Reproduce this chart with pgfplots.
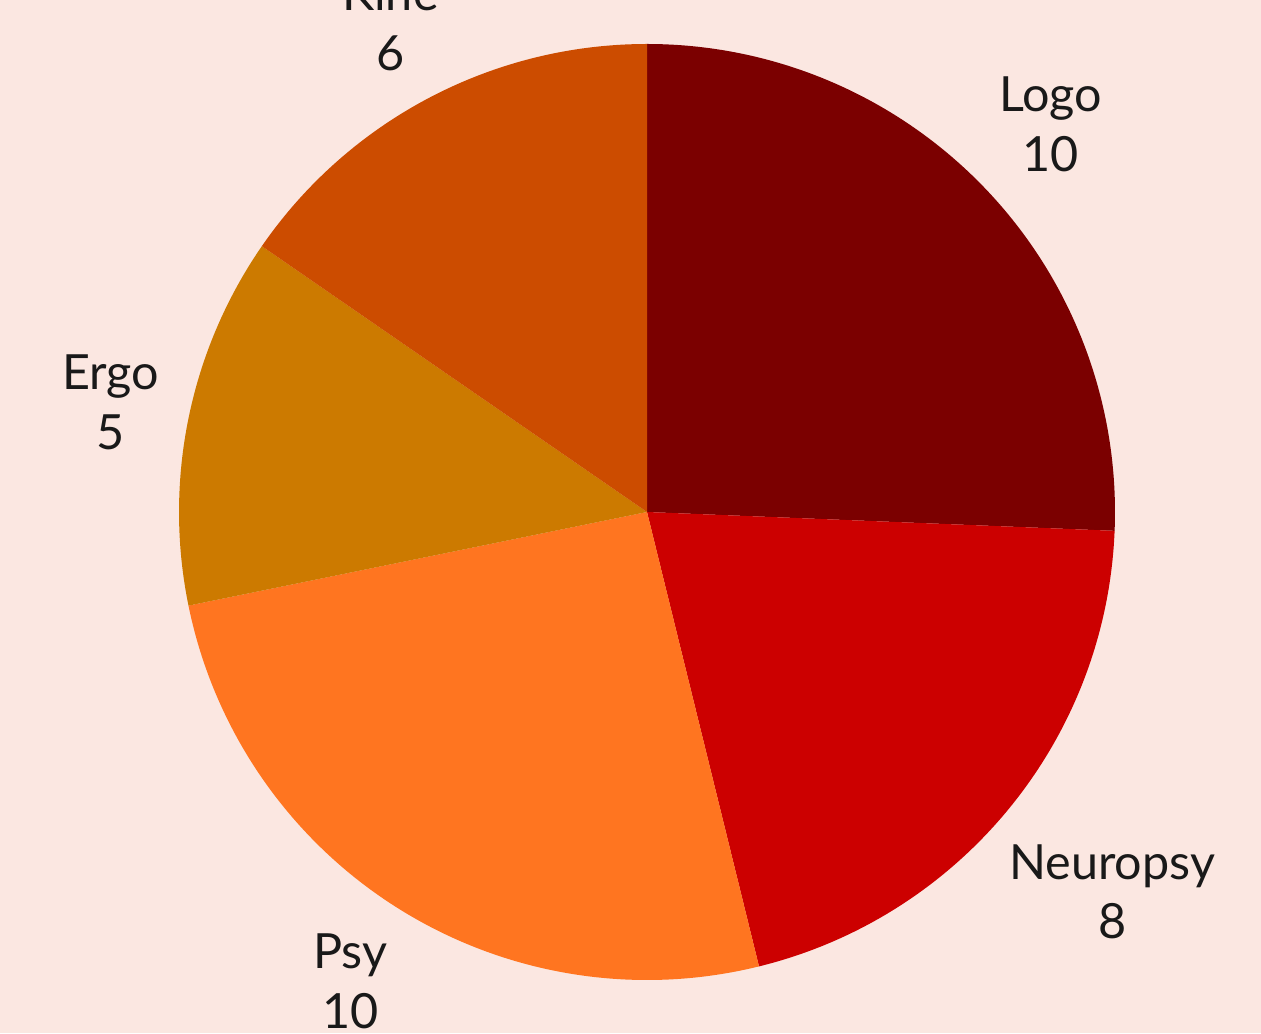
\documentclass[border=0pt]{standalone}
\usepackage{pgfplots}
\pgfplotsset{compat=1.18}
\usepackage{pgfplotstable}
\usepackage{fontspec}
\setmainfont{Lato}
\definecolor{bg}{HTML}{FBE7E1}
\definecolor{c0}{HTML}{7B0000}
\definecolor{c1}{HTML}{CC0000}
\definecolor{c2}{HTML}{FF7520}
\definecolor{c3}{HTML}{CC7A00}
\definecolor{c4}{HTML}{CC4C00}

\pgfplotstableread{
name value ldist
Logo 10 1.196
Neuropsy 8 1.283
Psy 10 1.186
Ergo 5 1.17
Kine 6 1.18
}\piedata

\begin{document}
\begin{tikzpicture}
\gdef\tot{0}%
\gdef\cum{0}%
\foreach \i in {0,...,4}{%
  \pgfplotstablegetelem{\i}{value}\of\piedata
  \pgfmathsetmacro\t{\tot+\pgfplotsretval}%
  \global\let\tot\t
}%
\foreach \i in {0,...,4}{%
  \pgfplotstablegetelem{\i}{value}\of\piedata
  \expandafter\xdef\csname vl\i\endcsname{\pgfplotsretval}%
  \pgfmathsetmacro\a{90-\cum/\tot*360}%
  \pgfmathsetmacro\c{\cum+\pgfplotsretval}%
  \pgfmathsetmacro\b{90-\c/\tot*360}%
  \pgfmathsetmacro\m{(\a+\b)/2}%
  \expandafter\xdef\csname sa\i\endcsname{\a}%
  \expandafter\xdef\csname sb\i\endcsname{\b}%
  \expandafter\xdef\csname sm\i\endcsname{\m}%
  \global\let\cum\c
  \pgfplotstablegetelem{\i}{name}\of\piedata
  \expandafter\xdef\csname nm\i\endcsname{\pgfplotsretval}%
  \pgfplotstablegetelem{\i}{ldist}\of\piedata
  \expandafter\xdef\csname ld\i\endcsname{\pgfplotsretval}%
}%
\begin{axis}[hide axis, scale only axis, width=12.61cm, height=10.33cm,
  xmin=0, xmax=1261, ymin=0, ymax=1033, clip=false]
\fill[bg] (axis cs:0,0) rectangle (axis cs:1261,1033);
\coordinate (bl) at (axis cs:0,0);
\coordinate (tr) at (axis cs:1261,1033);
\pgfplotsinvokeforeach{0,...,4}{
  \fill[c#1] (axis cs:647,521) -- ++(\csname sa#1\endcsname:46.8mm)
     arc[start angle=\csname sa#1\endcsname, end angle=\csname sb#1\endcsname, radius=46.8mm] -- cycle;
}
\pgfplotsinvokeforeach{0,...,4}{
  \path (axis cs:647,521) ++(\csname sm#1\endcsname:\csname ld#1\endcsname*46.8mm)
     node[align=center, text=black!90, font=\fontsize{13.8}{17}\selectfont]{\csname nm#1\endcsname\\\csname vl#1\endcsname};
}
\end{axis}
\pgfresetboundingbox
\path (bl) rectangle (tr);
\end{tikzpicture}
\end{document}
